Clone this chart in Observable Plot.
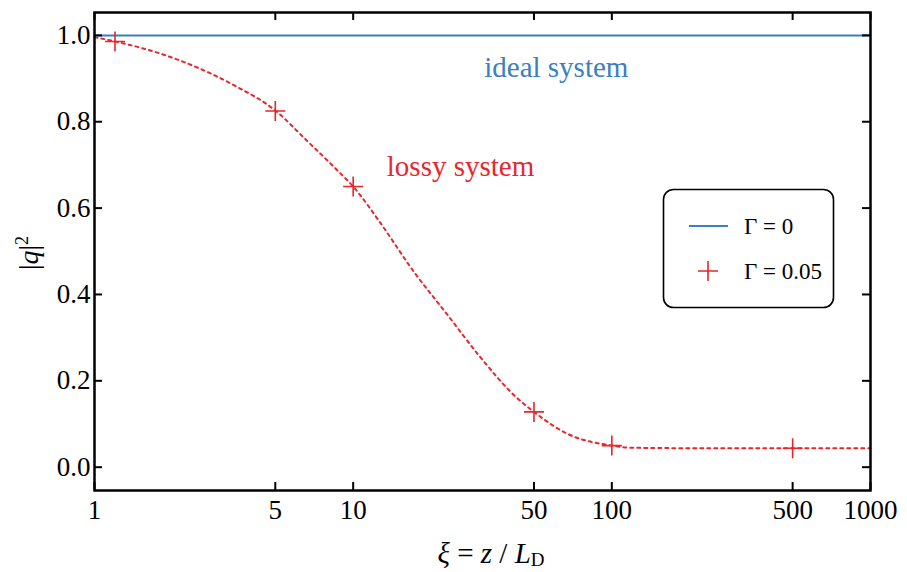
<!DOCTYPE html>
<html><head><meta charset="utf-8">
<script src="https://cdn.jsdelivr.net/npm/d3@7"></script>
<script src="https://cdn.jsdelivr.net/npm/@observablehq/plot@0.6"></script>
<style>
html,body{margin:0;padding:0;background:#fff;}
#chart{position:relative;width:907px;height:572px;}
</style></head><body><div id="chart"></div>
<script>
const xTicks = [1, 5, 10, 50, 100, 500, 1000];
const yTicks = [0, 0.2, 0.4, 0.6, 0.8, 1.0];
const idealX = [1, 1000];
const idealY = [1, 1];
const lossyCurveX = [1, 1.2, 1.75, 2.6, 3.5, 5, 6.6, 8.7, 10, 12.8, 17, 23, 31, 42, 50, 67, 100, 120, 200, 500, 1000];
const lossyCurveY = [0.996, 0.986, 0.960, 0.921, 0.883, 0.826, 0.757, 0.687, 0.650, 0.564, 0.456, 0.355, 0.255, 0.166, 0.128, 0.078, 0.050, 0.045, 0.044, 0.044, 0.044];
const lossyMarkX = [1.2, 5, 10, 50, 100, 500];
const lossyMarkY = [0.986, 0.825, 0.650, 0.128, 0.050, 0.044];
const noteText = ["ideal system", "lossy system"];
const noteX = [61, 26];
const noteY = [0.925, 0.697];
const legendLabels = ["Γ = 0", "Γ = 0.05"];

const BLUE = "#3b7fc0", RED = "#e8262d";
const FONT = "'Liberation Serif', 'Times New Roman', Times, 'DejaVu Serif', serif";
const W = 907, H = 572, mL = 94, mR = 37, mT = 12, mB = 82;
const iW = W - mL - mR, iH = H - mT - mB;

const curve = lossyCurveX.map((x, i) => ({x, y: lossyCurveY[i]}));
const marks = lossyMarkX.map((x, i) => ({x, y: lossyMarkY[i]}));
const ideal = idealX.map((x, i) => ({x, y: idealY[i]}));
const notes = noteText.map((t, i) => ({t, x: noteX[i], y: noteY[i], c: i === 0 ? BLUE : RED}));
const fmtY = d3.format(".1f");

const plot = Plot.plot({
  width: W, height: H,
  marginLeft: mL, marginRight: mR, marginTop: mT, marginBottom: mB,
  x: {type: "log", domain: [1, 1000], axis: null},
  y: {domain: [-0.054, 1.053], axis: null},
  style: {fontFamily: FONT, background: "white", color: "black"},
  marks: [
    Plot.line(ideal, {x: "x", y: "y", stroke: BLUE, strokeWidth: 2}),
    Plot.line(curve, {x: "x", y: "y", stroke: RED, strokeWidth: 2, strokeDasharray: "3,4", curve: "monotone-x"}),
    Plot.dot(marks, {x: "x", y: "y", symbol: "plus", r: 6.5, stroke: RED, strokeWidth: 1.6, fill: "none"}),
    Plot.text(notes, {x: "x", y: "y", text: "t", fill: "c", fontSize: 29, textAnchor: "middle", fontFamily: FONT}),
    Plot.ruleX(xTicks, {x: d => d, insetTop: iH - 8, stroke: "black", strokeWidth: 2}),
    Plot.ruleX(xTicks, {x: d => d, insetBottom: iH - 8, stroke: "black", strokeWidth: 2}),
    Plot.ruleY(yTicks, {y: d => d, insetRight: iW - 8, stroke: "black", strokeWidth: 2}),
    Plot.ruleY(yTicks, {y: d => d, insetLeft: iW - 8, stroke: "black", strokeWidth: 2}),
    Plot.text(xTicks, {x: d => d, text: d => String(d), frameAnchor: "bottom", lineAnchor: "top", dy: 9, fontSize: 27, fill: "black", fontFamily: FONT}),
    Plot.text(yTicks, {y: d => d, text: d => fmtY(d), frameAnchor: "left", textAnchor: "end", dx: -4, fontSize: 27, fill: "black", fontFamily: FONT}),
    Plot.frame({stroke: "black", strokeWidth: 2.5})
  ]
});
document.getElementById("chart").appendChild(plot);

const svg = d3.select(plot);
const yl = svg.append("text").attr("transform", "translate(38,253) rotate(-90)")
  .attr("text-anchor", "middle").attr("font-family", FONT).attr("font-size", 28).attr("fill", "black");
yl.append("tspan").text("|");
yl.append("tspan").attr("font-style", "italic").text("q");
yl.append("tspan").text("|");
yl.append("tspan").attr("font-size", 18).attr("dy", -10).text("2");
const xl = svg.append("text").attr("x", 491).attr("y", 563)
  .attr("text-anchor", "middle").attr("font-family", FONT).attr("font-size", 29).attr("fill", "black");
xl.append("tspan").attr("font-style", "italic").text("ξ");
xl.append("tspan").text(" = ");
xl.append("tspan").attr("font-style", "italic").text("z");
xl.append("tspan").text(" / ");
xl.append("tspan").attr("font-style", "italic").text("L");
xl.append("tspan").attr("font-size", 19).attr("dy", 3).text("D");
const lg = svg.append("g").attr("font-family", FONT).attr("font-size", 23).attr("text-anchor", "start");
lg.append("rect").attr("x", 663.5).attr("y", 189.5).attr("width", 170).attr("height", 118).attr("rx", 10)
  .attr("fill", "white").attr("stroke", "black").attr("stroke-width", 1.6);
lg.append("line").attr("x1", 689).attr("x2", 728).attr("y1", 226).attr("y2", 226).attr("stroke", BLUE).attr("stroke-width", 2);
lg.append("path").attr("d", "M698,271H718M708,261V281").attr("stroke", RED).attr("stroke-width", 1.6).attr("fill", "none");
lg.append("text").attr("x", 744).attr("y", 234).attr("text-anchor", "start").attr("fill", "black").text(legendLabels[0]);
lg.append("text").attr("x", 744).attr("y", 279).attr("text-anchor", "start").attr("fill", "black").text(legendLabels[1]);
</script></body></html>
